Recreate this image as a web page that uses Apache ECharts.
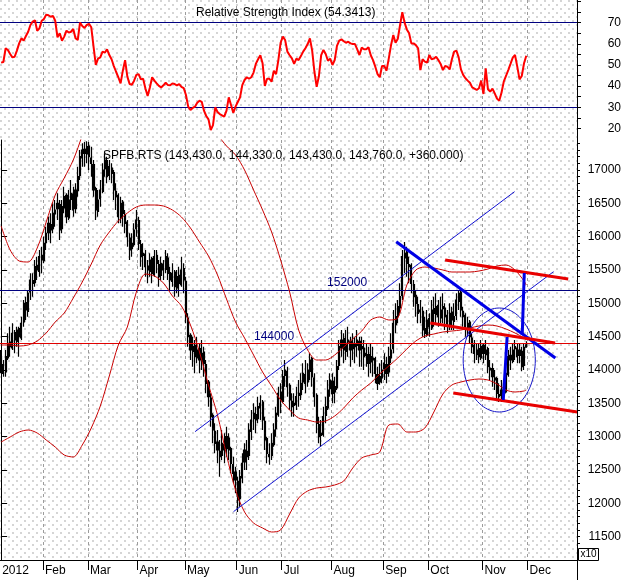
<!DOCTYPE html>
<html><head><meta charset="utf-8">
<script src="https://cdn.jsdelivr.net/npm/echarts@6/dist/echarts.min.js"></script>
<style>
html,body{margin:0;padding:0;background:#fff;}
#wrap{position:relative;width:629px;height:580px;overflow:hidden;background:#fff;}
#dots{position:absolute;left:0;top:0;width:577px;height:560px;
 background-image:radial-gradient(circle at 1px 1px,#d4d4d4 0.7px,rgba(255,255,255,0) 1.2px),radial-gradient(circle at 5px 5px,#d4d4d4 0.7px,rgba(255,255,255,0) 1.2px);
 background-size:8px 8px,8px 8px;}
#main{position:absolute;left:0;top:0;width:629px;height:580px;}
</style></head>
<body><div id="wrap"><div id="dots"></div><div id="main"></div></div>
<script>
// ---- axis structure ----
const monthNames = ['2012','Feb','Mar','Apr','May','Jun','Jul','Aug','Sep','Oct','Nov','Dec'];
const monthDays  = [19,20,22,21,23,20,22,23,20,24,20,22];
const rsiLabels = [20,30,40,50,60,70];
const priceLabels = [11500,12000,12500,13000,13500,14000,14500,15000,15500,16000,16500,17000];

// ---- daily OHLC (axis units, x10 in title) ----
const opens = [
14200,14080,13970,14180,14420,14330,14560,14430,14620,14480,
14720,15010,14880,15170,15340,15310,15570,15480,15720,15640,
15910,16060,16180,16120,16340,16420,16480,16120,16430,16620,
16280,16560,16640,16420,16690,16920,17180,17310,17240,17360,
17180,17080,16720,16380,16570,16680,17020,17140,16920,17030,
16960,16680,16620,16280,16520,16330,16220,15980,15820,15880,
16120,16240,15880,15720,15740,15560,15480,15670,15430,15720,
15580,15420,15590,15510,15680,15460,15330,15470,15230,15420,
15280,15520,15330,14780,14520,14280,14370,14180,14320,14130,
14270,14080,13820,13580,13320,13080,12920,12780,12720,12880,
12820,12980,12820,12580,12470,12330,12070,12380,12620,12780,
12720,13080,13270,13330,13270,13430,13520,13230,12970,12730,
12720,12880,13120,13330,13670,13530,13920,13980,13770,13530,
13470,13480,13620,13630,13820,13930,13820,13980,14170,13880,
13620,13180,13020,13030,13320,13430,13720,13830,13670,13730,
14070,14330,14470,14280,14420,14430,14320,14380,14370,14430,
14320,14330,14220,14230,14120,14180,14170,13930,13820,13880,
14020,14080,13970,14180,14320,14680,14820,14930,15120,15680,
15770,15580,15570,15280,15120,14980,14870,14880,14620,14530,
14770,14630,14920,14830,14970,14780,14920,14930,14820,14680,
14870,14730,14820,15030,15170,14880,14820,14630,14720,14480,
14370,14230,14320,14180,14370,14230,14320,14030,14020,13880,
13870,13630,13620,13680,13670,13930,14220,14130,14320,14330,
14220,14280,14070,14343];
const closes = [
14100,13950,14200,14400,14350,14550,14450,14600,14500,14700,
15000,14900,15150,15350,15300,15550,15500,15700,15650,15900,
16050,16200,16100,16350,16400,16500,16100,16450,16600,16300,
16550,16650,16400,16700,16900,17200,17300,17250,17350,17200,
17100,16700,16400,16550,16700,17000,17150,16900,17050,16950,
16700,16600,16300,16500,16350,16200,16000,15800,15900,16100,
16250,15900,15700,15750,15550,15500,15650,15450,15700,15600,
15400,15600,15500,15700,15450,15350,15450,15250,15400,15300,
15500,15350,14800,14500,14300,14350,14200,14300,14150,14250,
14100,13800,13600,13300,13100,12900,12800,12700,12900,12800,
13000,12800,12600,12450,12350,12050,12400,12600,12800,12700,
13100,13250,13350,13250,13450,13500,13250,12950,12750,12700,
12900,13100,13350,13650,13550,13900,14000,13750,13550,13450,
13500,13600,13650,13800,13950,13800,14000,14150,13900,13600,
13200,13000,13050,13300,13450,13700,13850,13650,13750,14050,
14350,14450,14300,14400,14450,14300,14400,14350,14450,14300,
14350,14200,14250,14100,14200,14150,13950,13800,13900,14000,
14100,13950,14200,14300,14700,14800,14950,15100,15700,15750,
15600,15550,15300,15100,15000,14850,14900,14600,14550,14750,
14650,14900,14850,14950,14800,14900,14950,14800,14700,14850,
14750,14800,15050,15150,14900,14800,14650,14700,14500,14350,
14250,14300,14200,14350,14250,14300,14050,14000,13900,13850,
13650,13600,13700,13650,13950,14200,14150,14300,14350,14200,
14300,14050,14340,14376];
const lows = [
13950,13900,13900,14150,14200,14300,14250,14350,14200,14450,
14650,14750,14800,15050,15100,15250,15350,15400,15450,15600,
15800,15950,15900,16050,16150,16250,15950,16050,16350,16200,
16250,16400,16300,16350,16600,16850,17050,17050,17100,17000,
16900,16600,16250,16300,16450,16650,16900,16800,16850,16800,
16550,16400,16200,16200,16150,16050,15850,15650,15700,15850,
16000,15800,15550,15500,15400,15300,15400,15300,15400,15450,
15250,15350,15350,15450,15350,15200,15250,15100,15150,15100,
15250,15150,14700,14350,14150,14050,13950,14100,13950,14000,
13900,13650,13450,13150,12900,12750,12600,12400,12650,12600,
12700,12650,12450,12300,12150,11870,11950,12300,12500,12500,
12650,12950,13100,13050,13200,13250,13100,12800,12600,12580,
12650,12850,13000,13300,13350,13500,13750,13600,13400,13300,
13300,13400,13450,13550,13700,13650,13750,13850,13750,13450,
13050,12900,12850,13000,13200,13400,13600,13500,13500,13700,
14000,14200,14100,14150,14200,14050,14150,14100,14200,14050,
14050,14000,14050,13900,13950,13900,13800,13700,13780,13800,
13850,13800,13900,14100,14250,14550,14700,14850,15050,15450,
15400,15300,15150,14950,14800,14700,14700,14500,14480,14500,
14500,14600,14650,14700,14650,14700,14700,14600,14550,14600,
14600,14600,14750,14900,14800,14650,14500,14500,14400,14250,
14100,14150,14100,14150,14100,14150,13950,13850,13750,13700,
13550,13520,13520,13530,13650,13900,14000,14100,14150,14100,
14100,13980,14000,14343];
const highs = [
14300,14150,14300,14550,14650,14700,14600,14650,14650,14800,
15050,15100,15200,15450,15450,15650,15700,15800,15850,16000,
16150,16300,16350,16500,16550,16650,16550,16550,16750,16650,
16700,16850,16750,16800,17050,17300,17400,17420,17430,17420,
17350,17150,16750,16700,16850,17100,17250,17200,17150,17100,
17000,16800,16650,16600,16550,16400,16250,16050,16050,16200,
16400,16300,15950,15900,15800,15650,15750,15700,15800,15800,
15650,15700,15650,15800,15750,15550,15600,15500,15500,15550,
15700,15600,15400,14850,14550,14500,14450,14500,14400,14450,
14350,14150,13850,13650,13350,13200,13100,12950,13100,13050,
13150,13050,12850,12700,12550,12400,12500,12750,12900,12950,
13200,13400,13500,13450,13600,13620,13550,13300,13000,12900,
13050,13200,13450,13750,13800,14000,14150,14050,13800,13650,
13650,13750,13850,13950,14100,14150,14100,14250,14200,13950,
13650,13300,13250,13450,13600,13850,13950,13950,13900,14150,
14450,14600,14550,14600,14650,14500,14550,14500,14600,14500,
14500,14450,14400,14350,14400,14350,14200,14050,14100,14150,
14250,14200,14350,14550,14900,15000,15050,15300,15800,15920,
15850,15700,15600,15350,15200,15100,15050,14950,14800,14900,
14850,15050,15100,15150,15050,15100,15150,15000,14900,15000,
14950,15000,15150,15200,15200,14950,14850,14800,14750,14550,
14450,14400,14400,14450,14400,14450,14350,14150,14100,14000,
13900,13800,13850,13800,14050,14300,14350,14400,14450,14400,
14400,14350,14400,14433];

// ---- RSI (daily) ----
const rsi = [
51.1,51.4,57.9,57.1,55.2,53.6,53.9,56.8,60.2,62.6,
61.5,63.7,65.7,68.9,70.5,71.1,66.2,67.3,70.9,71.7,
73.8,73.5,72.8,73.2,70.9,63.1,65.0,61.5,63.4,66.2,
65.3,65.7,67.0,62.6,61.8,70.0,68.4,67.5,68.9,69.4,
67.8,58.7,50.0,53.0,53.6,56.3,55.8,57.4,54.7,52.7,
49.5,46.8,44.2,41.3,47.3,52.3,44.5,41.0,40.7,42.6,
45.3,45.7,43.2,43.5,39.0,35.3,39.4,44.2,42.6,41.3,
40.1,39.4,40.4,41.6,40.5,40.4,41.3,41.0,40.4,41.0,
39.7,39.1,35.8,30.3,28.7,29.7,30.3,32.2,33.1,32.6,
28.4,25.9,24.3,19.3,21.6,30.0,27.8,26.8,26.2,25.6,
28.4,34.7,31.1,27.4,30.3,32.5,34.7,40.5,42.9,44.2,
43.5,44.2,46.4,50.5,52.7,54.6,50.8,40.1,43.5,43.5,
42.1,47.3,45.7,52.3,60.5,63.4,61.8,56.3,54.6,53.1,
50.5,53.0,52.3,54.2,56.3,57.9,59.9,62.6,56.8,46.8,
39.7,44.8,54.7,57.1,55.2,52.0,53.0,50.0,52.3,59.0,
61.5,62.1,61.2,60.5,61.0,60.2,59.9,59.9,57.4,54.7,
58.2,57.4,57.4,58.4,54.6,52.3,49.2,45.7,44.2,49.5,
49.5,47.3,53.1,59.4,64.2,60.5,62.4,68.9,74.9,70.0,
66.8,65.0,60.2,60.2,59.4,57.9,47.6,52.7,51.6,51.1,
54.7,52.7,53.0,53.9,52.3,50.5,47.6,49.5,49.2,47.9,
52.7,56.3,56.8,53.6,47.9,45.3,43.7,42.6,41.6,39.4,
38.8,38.2,39.0,42.6,36.3,48.4,38.5,37.4,38.8,36.6,
34.1,33.1,36.9,42.1,44.8,47.6,50.5,53.5,54.7,49.2,
43.2,44.8,50.8,54.34];

// ---- Bollinger bands (read every 4 sessions) ----
const bbIdx = [0,4,8,12,16,20,24,28,32,36,40,44,48,52,56,60,64,68,72,76,
80,84,88,92,96,100,104,108,112,116,120,124,128,132,136,140,144,148,152,156,
160,164,168,172,176,180,184,188,192,196,200,204,208,212,216,220,224,228,232,233];
const bbUpper = [16160,15800,15635,15620,15830,16220,16625,16880,17150,17525,
18020,18290,18215,18065,18065,17690,17510,17540,17615,17690,
17630,17525,17570,17645,17525,17360,17225,17000,16700,16400,
16070,15650,15170,14600,14300,14150,14150,14225,14345,14465,
14585,14750,14795,14750,14780,15275,15500,15545,15530,15500,
15470,15470,15470,15485,15515,15560,15575,15500,15335,15275];
const bbMid = [14375,14375,14360,14375,14435,14555,14720,14855,15080,15320,
15590,15875,16070,16235,16355,16445,16475,16475,16460,16400,
16295,16130,15920,15710,15425,15065,14720,14480,14225,13970,
13760,13550,13400,13280,13250,13220,13235,13310,13430,13580,
13700,13805,13940,14060,14180,14315,14435,14510,14540,14570,
14585,14600,14630,14660,14675,14660,14615,14555,14480,14450];
const bbLower = [12920,12995,13070,13100,13055,12950,12845,12725,12695,12875,
13130,13460,13910,14375,14645,15170,15440,15410,15305,15110,
14960,14675,14270,13775,13325,12725,12200,11870,11705,11630,
11570,11600,11840,12080,12185,12230,12245,12275,12335,12530,
12680,12725,12770,13175,13190,13070,13070,13130,13370,13640,
13775,13820,13850,13865,13850,13790,13700,13670,13685,13700];

// ---- drawn studies: [session index, price] ----
const channelUpper = [[86.05,13075],[227.8,16675]];
const channelLower = [[103.1,11875],[245.1,15475]];
const blueDown     = [[175.3,15925],[245.9,14180]];
const redTop       = [[197.0,15650],[251.6,15365]];
const redMid       = [[190.4,14705],[245.8,14405]];
const redLow       = [[200.6,13655],[255.6,13370]];
const moveA        = [[222.8,13550],[224.5,14495]];
const moveB        = [[232.1,15455],[231.2,14525]];
const ellipse      = [221.0,14150,16.0,780];   // centre idx, centre price, half-width (sessions), half-height (price)
const levelBlue = 15200, levelRed = 14400;
const rsiLevels = [70,30];

// ---- build ----
const cats = [], monthLabelAt = {};
let k = 0;
monthDays.forEach((n,m)=>{ monthLabelAt[k] = monthNames[m]; for(let d=0; d<n; d++){ cats.push(String(k)); k++; } });
const isMonthStart = (i)=> monthLabelAt[i] !== undefined;
const FONT = 'Liberation Sans, Arial, sans-serif';
const candle = opens.map((o,i)=>[o, closes[i], lows[i], highs[i]]);
const pairs = (xs, ys)=> xs.map((x,j)=>[x, ys[j]]);
const rsiTicks=[]; for(let v=20; v<=80; v+=5) rsiTicks.push(v);
const minorTicks=[]; for(let v=11200; v<=17400; v+=100) minorTicks.push(v);

const splitStyle = {show:true, interval:(i)=> i>0 && isMonthStart(i), lineStyle:{color:'#9c9c9c', width:1, type:[3,3]}};

function seg(pts, color, width){
  return {type:'line', xAxisIndex:2, yAxisIndex:1, data:pts, showSymbol:false, symbol:'none',
    lineStyle:{color:color, width:width}, z:8, silent:true, animation:false};
}

const chart = echarts.init(document.getElementById('main'), null, {renderer:'canvas'});
const option = {
  animation:false,
  backgroundColor:'transparent',
  grid:[
    {left:0, top:0, width:577, height:138, outerBoundsMode:'none', containLabel:false},
    {left:0, top:140, width:577, height:420, outerBoundsMode:'none', containLabel:false}
  ],
  xAxis:[
    {type:'category', gridIndex:0, data:cats, boundaryGap:true, axisLine:{show:false}, axisTick:{show:false}, axisLabel:{show:false}, splitLine:splitStyle},
    {type:'category', gridIndex:1, data:cats, boundaryGap:true,
      axisLine:{show:true, lineStyle:{color:'#000', width:1}},
      axisTick:{show:true, interval:(i)=> i>0 && isMonthStart(i), length:10, lineStyle:{color:'#000', width:1}},
      axisLabel:{show:true, interval:(i)=> isMonthStart(i), formatter:(v)=> monthLabelAt[+v] || '', align:'left', color:'#000', fontSize:12, fontFamily:FONT, margin:5, padding:[0,0,0,1]},
      splitLine:splitStyle},
    {type:'value', gridIndex:1, min:-0.5, max:255.5, show:false},
  ],
  yAxis:[
    {type:'value', gridIndex:0, position:'right', min:15.5, max:80.7, scale:true,
      splitLine:{show:false}, axisLine:{show:true, lineStyle:{color:'#000'}},
      axisTick:{show:true, customValues:rsiTicks, length:4, lineStyle:{color:'#000'}},
      axisLabel:{customValues:rsiLabels, formatter:(v)=>String(v), color:'#000', fontSize:12, fontFamily:FONT, align:'right', margin:44}},
    {type:'value', gridIndex:1, position:'right', min:11150, max:17450, scale:true,
      splitLine:{show:false}, axisLine:{show:true, lineStyle:{color:'#000'}},
      axisTick:{show:true, customValues:priceLabels, length:6, lineStyle:{color:'#000'}},
      axisLabel:{customValues:priceLabels, formatter:(v)=>String(Math.round(v)), color:'#000', fontSize:12, fontFamily:FONT, align:'right', margin:44}},
    {type:'value', gridIndex:1, position:'right', min:11150, max:17450, scale:true,
      splitLine:{show:false}, axisLine:{show:false},
      axisTick:{show:true, customValues:minorTicks, length:3, lineStyle:{color:'#000'}},
      axisLabel:{show:false}}
  ],
  series:[
    {type:'line', name:'RSI', xAxisIndex:0, yAxisIndex:0, data:rsi, showSymbol:false, symbol:'none',
      lineStyle:{color:'#ff0000', width:2}, z:4, silent:true,
      markLine:{silent:true, symbol:'none', label:{show:false}, z:3,
        lineStyle:{color:'#000080', width:1, type:'solid'},
        data: rsiLevels.map(v=>({yAxis:v}))}},
    {type:'candlestick', name:'SPFB.RTS', xAxisIndex:1, yAxisIndex:1, data:candle, barWidth:1.6, z:2, silent:true,
      itemStyle:{color:'#000', color0:'#000', borderColor:'#000', borderColor0:'#000', borderColorDoji:'#000', borderWidth:1.2},
      markLine:{silent:true, symbol:'none', label:{show:false},
        data:[{yAxis:levelBlue, lineStyle:{color:'#000080', width:1, type:'solid'}},
              {yAxis:levelRed, lineStyle:{color:'#e00000', width:1, type:'solid'}}]}},
    {type:'line', xAxisIndex:2, yAxisIndex:1, data:pairs(bbIdx,bbUpper), showSymbol:false, symbol:'none', smooth:0.3, lineStyle:{color:'#c80000', width:1}, z:5, silent:true},
    {type:'line', xAxisIndex:2, yAxisIndex:1, data:pairs(bbIdx,bbMid), showSymbol:false, symbol:'none', smooth:0.3, lineStyle:{color:'#c80000', width:1}, z:5, silent:true},
    {type:'line', xAxisIndex:2, yAxisIndex:1, data:pairs(bbIdx,bbLower), showSymbol:false, symbol:'none', smooth:0.3, lineStyle:{color:'#c80000', width:1}, z:5, silent:true},
    seg(channelUpper, '#1010d0', 1),
    seg(channelLower, '#1010d0', 1),
    seg(blueDown, '#0000e6', 3),
    seg(redTop, '#e80000', 3),
    seg(redMid, '#e80000', 3),
    seg(redLow, '#e80000', 3),
    seg(moveA, '#0000e6', 3),
    seg(moveB, '#0000e6', 3),
    {type:'custom', xAxisIndex:2, yAxisIndex:1, data:[ellipse], z:7, silent:true,
      renderItem:(params, api)=>{
        const c = api.coord([api.value(0), api.value(1)]);
        const s = api.size([api.value(2), api.value(3)]);
        const pts=[];
        for(let t=0; t<=96; t++){ const a=t/96*Math.PI*2; pts.push([c[0]+s[0]*Math.cos(a), c[1]+s[1]*Math.sin(a)]); }
        return {type:'polyline', shape:{points:pts}, style:{stroke:'#1414c8', lineWidth:1, fill:null}};
      }}
  ],
  graphic:[
    {type:'text', x:196, y:13, style:{text:'Relative Strength Index (54.3413)', font:'12px '+FONT, fill:'#000', verticalAlign:'middle', align:'left'}, z:20},
    {type:'text', x:103, y:156, style:{text:'SPFB.RTS (143,430.0, 144,330.0, 143,430.0, 143,760.0, +360.000)', font:'12px '+FONT, fill:'#000', verticalAlign:'middle', align:'left'}, z:20},
    {type:'line', shape:{x1:577.5, y1:0, x2:577.5, y2:580}, style:{stroke:'#000', lineWidth:1}, z:20},
    {type:'rect', shape:{x:578.5, y:548.5, width:20, height:12}, style:{stroke:'#000', fill:'#fff', lineWidth:1}, z:20},
    {type:'text', x:588.5, y:554.5, style:{text:'x10', font:'10px '+FONT, fill:'#000', verticalAlign:'middle', align:'center'}, z:21}
  ]
};
chart.setOption(option);

// level labels placed through the chart's own scales
const pBlue = chart.convertToPixel({xAxisIndex:2, yAxisIndex:1}, [144.6, levelBlue]);
const pRed  = chart.convertToPixel({xAxisIndex:2, yAxisIndex:1}, [112.2, levelRed]);
chart.setOption({graphic: option.graphic.concat([
  {type:'text', x:pBlue[0], y:pBlue[1]-1, style:{text:'152000', font:'12px '+FONT, fill:'#000080', verticalAlign:'bottom', align:'left'}, z:20},
  {type:'text', x:pRed[0], y:pRed[1]-1, style:{text:'144000', font:'12px '+FONT, fill:'#000080', verticalAlign:'bottom', align:'left'}, z:20}
])});
</script></body></html>
